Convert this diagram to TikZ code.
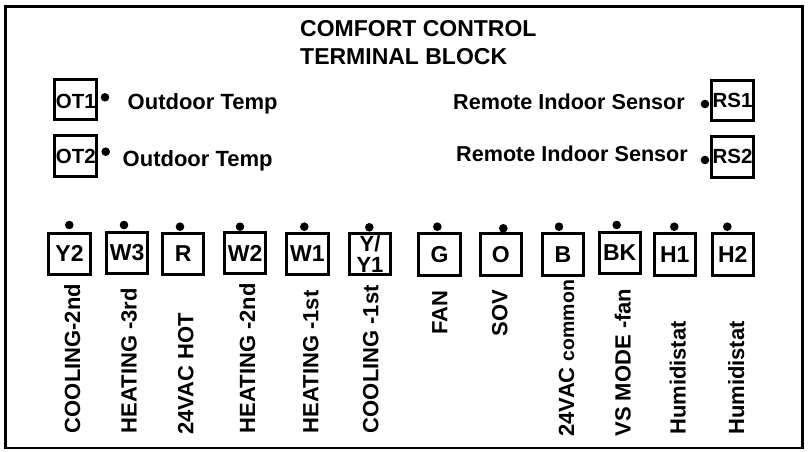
\documentclass[tikz,border=0pt]{standalone}
\usepackage{fontspec}
\setmainfont{Liberation Sans}
\begin{document}
\begin{tikzpicture}[x=1pt,y=-1pt,
  outerframe/.style={draw,line width=2.8pt},
  termbox/.style={draw,line width=3pt,minimum width=41.4pt,minimum height=41.4pt,inner sep=0pt,font=\bfseries\fontsize{23}{21}\selectfont,align=center},
  sensbox/.style={draw,line width=3pt,minimum width=42pt,minimum height=40.3pt,inner sep=0pt,font=\bfseries\fontsize{20.5}{24}\selectfont},
  termdot/.style={circle,fill=black,inner sep=0pt,minimum size=8.6pt},
  desc/.style={anchor=base west,inner sep=0pt,font=\bfseries\fontsize{22}{26}\selectfont},
  vlabel/.style={rotate=90,anchor=base west,inner sep=0pt,font=\bfseries\fontsize{22}{26}\selectfont},
  titletext/.style={anchor=base west,inner sep=0pt,font=\bfseries\fontsize{23}{28}\selectfont}]
\useasboundingbox (0,0) rectangle (808,452);
\draw[outerframe] (5.3,6.2) rectangle (802.6,448);

% title
\node[titletext] (title1) at (300,36.7) {COMFORT CONTROL};
\node[titletext] (title2) at (300,65) {TERMINAL BLOCK};

% sensor boxes
\node[sensbox,text height=19.5pt] (OT1) at (75.8,99.2) {OT1};
\node[sensbox,minimum height=41pt] (OT2) at (75.8,156.3) {OT2};
\node[sensbox] (RS1) at (732.5,100.2) {RS1};
\node[sensbox,minimum height=41pt] (RS2) at (732.5,156.7) {RS2};
\node[termdot] (dOT1) at (105,97.3) {};
\node[termdot] (dOT2) at (105.7,151.7) {};
\node[termdot] (dRS1) at (705,104) {};
\node[termdot] (dRS2) at (705,160) {};
\node[desc] (tOT1) at (127.5,109.3) {Outdoor Temp};
\node[desc] (tOT2) at (122.5,166) {Outdoor Temp};
\node[desc,font=\bfseries\fontsize{21.6}{26}\selectfont] (tRS1) at (453,109.3) {Remote Indoor Sensor};
\node[desc,font=\bfseries\fontsize{21.6}{26}\selectfont] (tRS2) at (456,161.7) {Remote Indoor Sensor};

% terminal boxes
\node[termbox] (Y2) at (69.5,253.8) {Y2};
\node[termbox] (W3) at (127.2,253) {W3};
\node[termbox] (R)  at (183.2,253.8) {R};
\node[termbox] (W2) at (245.2,253) {W2};
\node[termbox] (W1) at (307.3,253.8) {W1};
\node[termbox,font=\bfseries\fontsize{22}{20.5}\selectfont] (Y1) at (370,253.8) {Y/\\Y1};
\node[termbox] (G)  at (439.5,254.5) {G};
\node[termbox] (O)  at (500.8,254.5) {O};
\node[termbox] (B)  at (562.8,254.5) {B};
\node[termbox] (BK) at (619.7,253) {BK};
\node[termbox] (H1) at (674.8,254.5) {H1};
\node[termbox] (H2) at (732.8,254.5) {H2};

% terminal dots
\node[termdot] (dY2) at (69.3,225) {};
\node[termdot] (dW3) at (124,225) {};
\node[termdot] (dR)  at (180,226.7) {};
\node[termdot] (dW2) at (240,226.7) {};
\node[termdot] (dW1) at (304.3,226.7) {};
\node[termdot] (dY1) at (369.3,227.3) {};
\node[termdot] (dG)  at (437.3,226.7) {};
\node[termdot] (dO)  at (503.3,228.3) {};
\node[termdot] (dB)  at (559,226.7) {};
\node[termdot] (dBK) at (616.7,225) {};
\node[termdot] (dH1) at (674.3,226.7) {};
\node[termdot] (dH2) at (727.3,226.7) {};

% vertical labels
\node[vlabel] (lY2) at (80,433.3) {COOLING-2nd};
\node[vlabel] (lW3) at (136.7,433.3) {HEATING -3rd};
\node[vlabel] (lR)  at (193.3,435) {24VAC HOT};
\node[vlabel] (lW2) at (255,433.3) {HEATING -2nd};
\node[vlabel] (lW1) at (318.3,433.3) {HEATING -1st};
\node[vlabel] (lY1) at (378.3,433.3) {COOLING -1st};
\node[vlabel] (lG)  at (447.3,335) {FAN};
\node[vlabel] (lO)  at (507.3,336.7) {SOV};
\node[vlabel] (lB)  at (574,436.7) {24VAC {\fontsize{19.5}{24}\selectfont common}};
\node[vlabel] (lBK) at (630.7,436.7) {VS MODE -fan};
\node[vlabel] (lH1) at (685.7,435) {Humidistat};
\node[vlabel] (lH2) at (744,435) {Humidistat};
\end{tikzpicture}
\end{document}
